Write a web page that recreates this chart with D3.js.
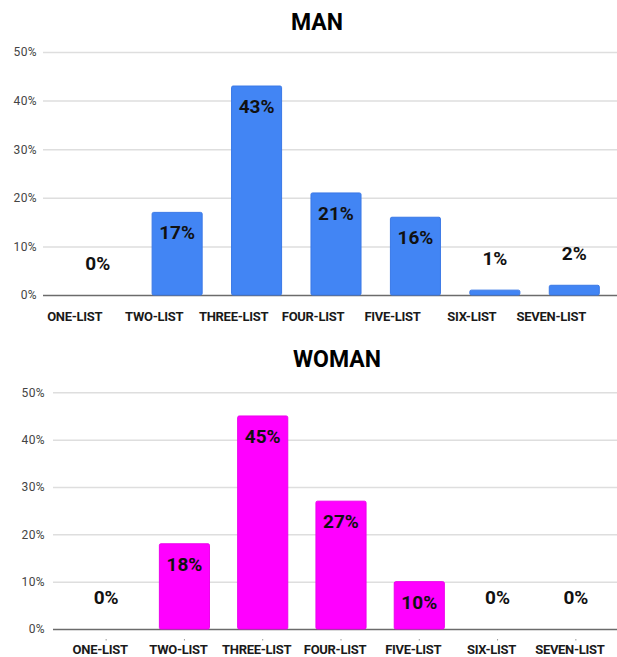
<!DOCTYPE html>
<html>
<head>
<meta charset="utf-8">
<script src="https://cdn.jsdelivr.net/npm/d3@7"></script>
<style>
  html, body { margin: 0; padding: 0; background: #fff; }
  svg { display: block; font-family: Roboto, Arial, sans-serif; }
</style>
</head>
<body>
<svg id="chart" width="617" height="657"></svg>
<script>
// Share of respondents by list count, split by gender
const categories = ["ONE-LIST", "TWO-LIST", "THREE-LIST", "FOUR-LIST", "FIVE-LIST", "SIX-LIST", "SEVEN-LIST"];
const manValues = [0, 17, 43, 21, 16, 1, 2];
const womanValues = [0, 18, 45, 27, 10, 0, 0];
const yTicks = [0, 10, 20, 30, 40, 50];
const titles = ["MAN", "WOMAN"];

const svg = d3.select("#chart");

function drawPanel(opt) {
  const g = svg.append("g");

  const x = d3.scaleBand()
    .domain(categories)
    .range([opt.bandLeft, opt.bandRight])
    .paddingInner(opt.pad)
    .paddingOuter(opt.pad / 2);

  const y = d3.scaleLinear()
    .domain([0, 50])
    .range([opt.y0, opt.y50]);

  // title
  g.append("text")
    .attr("x", opt.titleX)
    .attr("y", opt.titleY)
    .attr("text-anchor", "middle")
    .attr("font-size", 23)
    .attr("font-weight", 700)
    .attr("fill", "#000")
    .text(opt.title);

  // gridlines and y labels
  const yAxis = d3.axisLeft(y)
    .tickValues(yTicks)
    .tickSize(-(opt.plotRight - opt.plotLeft))
    .tickPadding(6)
    .tickFormat(d => d + "%");

  const ya = g.append("g")
    .attr("transform", `translate(${opt.plotLeft},0)`)
    .call(yAxis);
  ya.select(".domain").remove();
  ya.selectAll(".tick line")
    .attr("stroke", d => d === 0 ? "#6b6b6b" : "#dedede")
    .attr("stroke-width", d => d === 0 ? 1.6 : 1.5);
  ya.selectAll(".tick text")
    .attr("x", opt.yLabelRight - opt.plotLeft)
    .attr("font-size", 12)
    .attr("letter-spacing", "0.4px")
    .attr("fill", "#444")
    .attr("font-family", "Roboto, Arial, sans-serif");

  // bars
  g.selectAll("rect.bar")
    .data(opt.values)
    .join("rect")
    .attr("class", "bar")
    .attr("x", (d, i) => x(categories[i]))
    .attr("width", x.bandwidth())
    .attr("y", d => y(d))
    .attr("height", d => y(0) - y(d))
    .attr("rx", 1.5)
    .attr("fill", opt.color)
    .attr("stroke", d => d > 0 ? opt.edge : "none")
    .attr("stroke-width", 1);

  // category ticks under the baseline
  if (opt.showTicks) {
    g.selectAll("line.cat-tick")
      .data(categories)
      .join("line")
      .attr("class", "cat-tick")
      .attr("x1", d => x(d) + x.bandwidth() / 2)
      .attr("x2", d => x(d) + x.bandwidth() / 2)
      .attr("y1", opt.y0 + 10)
      .attr("y2", opt.y0 + 11.5)
      .attr("stroke", "#999")
      .attr("stroke-width", 1);
  }

  // category labels
  g.selectAll("text.cat")
    .data(categories)
    .join("text")
    .attr("class", "cat")
    .attr("x", d => x(d) + x.bandwidth() / 2 + opt.labelDx)
    .attr("y", opt.labelY)
    .attr("text-anchor", "middle")
    .attr("font-size", 13)
    .attr("font-weight", 700)
    .attr("letter-spacing", "-0.3px")
    .attr("fill", "#1a1a1a")
    .text(d => d);

  // value labels: inside tall bars, above short ones
  g.selectAll("text.val")
    .data(opt.values)
    .join("text")
    .attr("class", "val")
    .attr("x", (d, i) => x(categories[i]) + x.bandwidth() / 2)
    .attr("y", d => d >= 5 ? y(d) + 27 : y(d) - 25)
    .attr("text-anchor", "middle")
    .attr("font-size", 19)
    .attr("font-weight", 700)
    .attr("fill", "#111")
    .text(d => d + "%");
}

drawPanel({
  title: titles[0], titleX: 317, titleY: 30,
  values: manValues, color: "#4285f4", edge: "#3a78e6",
  y0: 295, y50: 52,
  plotLeft: 43, plotRight: 617, yLabelRight: 37,
  bandLeft: 58, bandRight: 614, pad: 0.37,
  labelY: 321, labelDx: -23, showTicks: false
});

drawPanel({
  title: titles[1], titleX: 337, titleY: 366.5,
  values: womanValues, color: "#ff00ff", edge: "#ec00ec",
  y0: 629, y50: 392.3,
  plotLeft: 53, plotRight: 617, yLabelRight: 45,
  bandLeft: 67, bandRight: 615, pad: 0.36,
  labelY: 654, labelDx: -6, showTicks: true
});
</script>
</body>
</html>
